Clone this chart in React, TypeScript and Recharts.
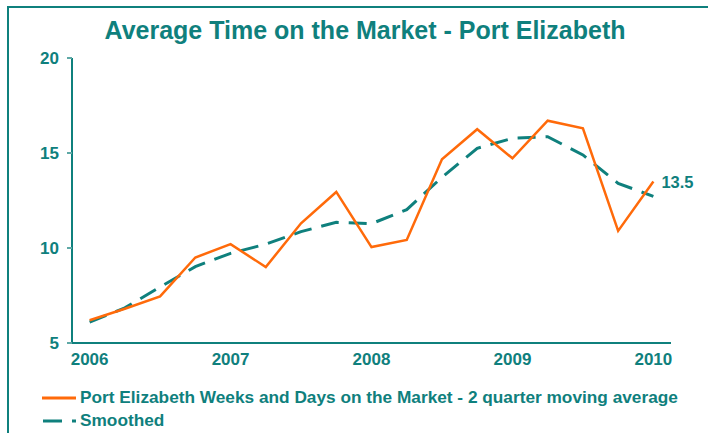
import React from 'react';
import { LineChart, Line, XAxis, YAxis, LabelList } from 'recharts';

const quarters = ['2006Q1','2006Q2','2006Q3','2006Q4','2007Q1','2007Q2','2007Q3','2007Q4','2008Q1','2008Q2','2008Q3','2008Q4','2009Q1','2009Q2','2009Q3','2009Q4','2010Q1'];
const movingAverage = [6.2, 6.8, 7.45, 9.5, 10.2, 9.0, 11.3, 12.95, 10.05, 10.42, 14.67, 16.25, 14.72, 16.7, 16.3, 10.9, 13.5];
const smoothed = [6.1, 6.85, 7.95, 9.02, 9.72, 10.2, 10.86, 11.35, 11.28, 12.02, 13.72, 15.25, 15.77, 15.86, 14.9, 13.4, 12.72];
const yearLabels = ['2006', '2007', '2008', '2009', '2010'];
const yearQuarterIndex = [0, 4, 8, 12, 16];
const yTicks = [5, 10, 15, 20];

const TEAL = '#0f807d';
const ORANGE = '#ff6a0a';
const FONT = '"Liberation Sans", Arial, sans-serif';

const data = quarters.map((q, i) => ({ q, pos: i + 0.5, ma: movingAverage[i], sm: smoothed[i] }));
const boundaryTicks = Array.from({ length: quarters.length + 1 }, (_, i) => i);
const labelTicks = yearQuarterIndex.map((i) => i + 0.5);

const LegendBlock = () => (
  <div style={{ position: 'absolute', left: 40, top: 386, fontFamily: FONT, fontWeight: 'bold', fontSize: 17.25, color: TEAL }}>
    <div style={{ display: 'flex', alignItems: 'center', height: 23 }}>
      <svg width={40} height={10}><line x1={2} y1={5} x2={36} y2={5} stroke={ORANGE} strokeWidth={3} /></svg>
      <span>Port Elizabeth Weeks and Days on the Market - 2 quarter moving average</span>
    </div>
    <div style={{ display: 'flex', alignItems: 'center', height: 23 }}>
      <svg width={40} height={10}><line x1={3} y1={5} x2={36} y2={5} stroke={TEAL} strokeWidth={3} strokeDasharray="19 10" /></svg>
      <span>Smoothed</span>
    </div>
  </div>
);

const lastLabel = (props: any) => {
  const { x, y, index, value } = props;
  if (index !== movingAverage.length - 1) return null;
  return (
    <text x={x + 8} y={y + 6} fill={TEAL} fontFamily={FONT} fontWeight="bold" fontSize={16.5}>{value}</text>
  );
};

export default function App() {
  return (
    <div style={{ position: 'absolute', left: 0, top: 0, width: 708, height: 433, background: '#fff', overflow: 'hidden' }}>
      <div style={{ position: 'absolute', left: 7, top: 6, width: 720, height: 440, borderTop: `2px solid ${TEAL}`, borderLeft: `2px solid ${TEAL}` }} />
      <div style={{ position: 'absolute', left: 0, top: 16, width: 730, textAlign: 'center', fontFamily: FONT, fontWeight: 'bold', fontSize: 25, color: TEAL }}>
        Average Time on the Market - Port Elizabeth
      </div>
      <div style={{ position: 'absolute', left: 0, top: 0 }}>
        <LineChart width={708} height={433} data={data} margin={{ top: 58, right: 37, bottom: 54, left: 32 }}>
          <XAxis xAxisId="b" dataKey="pos" type="number" domain={[0, quarters.length]} ticks={boundaryTicks}
            tick={false} tickSize={5} axisLine={{ stroke: TEAL, strokeWidth: 2 }} tickLine={{ stroke: '#5fa9a6', strokeWidth: 2 }} height={6} />
          <XAxis xAxisId="l" dataKey="pos" type="number" domain={[0, quarters.length]} ticks={labelTicks}
            tickFormatter={(v: number) => yearLabels[yearQuarterIndex.indexOf(v - 0.5)] ?? ''}
            axisLine={false} tickLine={false} tickSize={0} tickMargin={4}
            tick={{ fill: TEAL, fontFamily: FONT, fontWeight: 'bold', fontSize: 17 }} height={30} />
          <YAxis type="number" domain={[5, 20]} ticks={yTicks} width={40} tickSize={5} tickMargin={8}
            axisLine={{ stroke: TEAL, strokeWidth: 2 }} tickLine={{ stroke: '#5fa9a6', strokeWidth: 2 }}
            tick={{ fill: TEAL, fontFamily: FONT, fontWeight: 'bold', fontSize: 17 }} />
          <Line xAxisId="b" dataKey="sm" stroke={TEAL} strokeWidth={3} strokeDasharray="18 10" dot={false} isAnimationActive={false} />
          <Line xAxisId="b" dataKey="ma" stroke={ORANGE} strokeWidth={2.5} dot={false} isAnimationActive={false}>
            <LabelList dataKey="ma" content={lastLabel} />
          </Line>
        </LineChart>
      </div>
      <LegendBlock />
    </div>
  );
}
